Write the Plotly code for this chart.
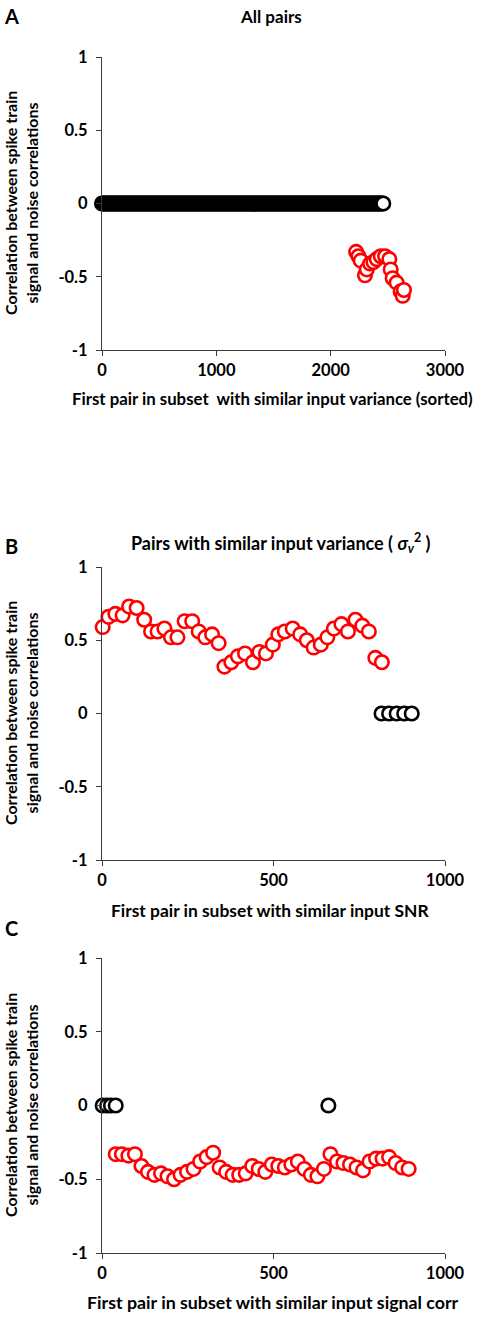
import plotly.graph_objects as go

# ---------------- data ----------------
# Panel A: all pairs
a_zero_x = list(range(0, 2461, 10))
a_zero_y = [0.0] * len(a_zero_x)
a_red_x = [2223, 2243, 2263, 2300, 2316, 2345, 2374, 2403, 2438, 2476, 2513, 2525, 2542, 2577, 2612, 2630, 2641]
a_red_y = [-0.33, -0.36, -0.39, -0.49, -0.45, -0.41, -0.40, -0.38, -0.36, -0.36, -0.38, -0.45, -0.51, -0.54, -0.60, -0.63, -0.59]

# Panel B: pairs with similar input variance
b_red_x = [2, 19, 39, 60, 79, 101, 123, 143, 162, 182, 201, 220, 241, 263, 282, 301, 321, 340,
           357, 377, 396, 417, 440, 459, 478, 498, 514, 533, 556, 578, 597, 617, 638, 657, 676,
           698, 717, 739, 759, 778, 797, 816]
b_red_y = [0.59, 0.66, 0.68, 0.67, 0.73, 0.72, 0.64, 0.56, 0.56, 0.58, 0.52, 0.52, 0.63, 0.63,
           0.56, 0.52, 0.54, 0.48, 0.32, 0.35, 0.39, 0.41, 0.35, 0.42, 0.41, 0.47, 0.54, 0.56,
           0.58, 0.54, 0.50, 0.45, 0.47, 0.52, 0.58, 0.61, 0.56, 0.64, 0.60, 0.56, 0.38, 0.35]
b_zero_x = [815, 837, 859, 881, 903]
b_zero_y = [0.0, 0.0, 0.0, 0.0, 0.0]

# Panel C: pairs with similar input signal correlation
c_red_x = [40, 58, 77, 96, 115, 134, 153, 172, 191, 210, 229, 248, 267, 286, 305, 324, 343, 362,
           381, 400, 419, 438, 457, 476, 495, 514, 533, 552, 571, 590, 609, 628, 647, 666, 685,
           704, 723, 742, 761, 780, 799, 818, 837, 856, 875, 894]
c_red_y = [-0.33, -0.33, -0.34, -0.33, -0.41, -0.45, -0.47, -0.46, -0.48, -0.50, -0.47, -0.45,
           -0.43, -0.38, -0.35, -0.32, -0.42, -0.45, -0.47, -0.47, -0.46, -0.41, -0.43, -0.45,
           -0.40, -0.41, -0.42, -0.40, -0.38, -0.43, -0.47, -0.48, -0.43, -0.33, -0.38, -0.39,
           -0.40, -0.42, -0.44, -0.38, -0.36, -0.36, -0.35, -0.39, -0.42, -0.43]
c_zero_x = [2, 15, 26, 40, 660]
c_zero_y = [0.0, 0.0, 0.0, 0.0, 0.0]

y_ticks = [-1, -0.5, 0, 0.5, 1]
y_ticktext = ["-1", "-0.5", "0", "0.5", "1"]
xa_ticks = [0, 1000, 2000, 3000]
xb_ticks = [0, 500, 1000]

# ---------------- figure ----------------
W, H = 491, 1317
FONT = "Lato"
RED = "#FF0000"
BLK = "#000000"


def py(px):
    return 1 - px / H


def px_x(px):
    return px / W


fig = go.Figure()

def add_pts(x, y, color, ax):
    fig.add_trace(go.Scatter(
        x=x, y=y, mode="markers", xaxis="x" + ax, yaxis="y" + ax,
        marker=dict(symbol="circle", size=13.5, color="white",
                    line=dict(color=color, width=2.6)),
        cliponaxis=False, showlegend=False, hoverinfo="x+y"))

add_pts(a_red_x, a_red_y, RED, "")
add_pts(a_zero_x, a_zero_y, BLK, "")
add_pts(b_red_x, b_red_y, RED, "2")
add_pts(b_zero_x, b_zero_y, BLK, "2")
add_pts(c_red_x, c_red_y, RED, "3")
add_pts(c_zero_x, c_zero_y, BLK, "3")

fig.data[0].xaxis = "x"; fig.data[0].yaxis = "y"
fig.data[1].xaxis = "x"; fig.data[1].yaxis = "y"

tickfont = dict(family=FONT, size=16.5, color="#000000", weight="bold")
axis_common = dict(showline=True, linecolor="#3a3a3a", linewidth=1.2, showgrid=False,
                   zeroline=False, ticks="outside", ticklen=5, tickcolor="#3a3a3a",
                   tickfont=tickfont, fixedrange=True, automargin=False)

panels = [
    ("", [57, 350], [0, 3000], xa_ticks),
    ("2", [567, 860], [0, 1000], xb_ticks),
    ("3", [958, 1253], [0, 1000], xb_ticks),
]
x_dom = [px_x(102), px_x(445)]
for ax, (top, bot), xr, xt in panels:
    fig.update_layout(**{
        "xaxis" + ax: dict(domain=x_dom, range=xr, tickvals=xt,
                           anchor="y" + ax, **axis_common),
        "yaxis" + ax: dict(domain=[py(bot), py(top)], range=[-1, 1], tickvals=y_ticks,
                           ticktext=y_ticktext, anchor="x" + ax, ticklabelstandoff=5,
                           **axis_common),
    })

ann = []
def text(x, y, s, size=14, angle=0):
    ann.append(dict(x=x / W, y=py(y), xref="paper", yref="paper", text=s, showarrow=False,
                    font=dict(family=FONT, size=size, color="#000000"), textangle=angle,
                    xanchor="center", yanchor="middle"))

ylab = "<b>Correlation between spike train<br>signal and noise correlations</b>"
for c in (203, 713, 1105):
    text(21, c, ylab, size=16, angle=-90)

text(11, 16, "<b>A</b>", size=20)
text(11, 546, "<b>B</b>", size=20)
text(11, 928, "<b>C</b>", size=20)
text(271, 17, "<b>All pairs</b>", size=17)
text(281, 543, "<b>Pairs with similar input variance ( <i>σ</i><sub><i>v</i></sub><sup>2</sup> )</b>", size=18)
text(272, 398, "<b>First pair in subset  with similar input variance (sorted)</b>", size=16.8)
text(270, 910, "<b>First pair in subset with similar input SNR</b>", size=17.4)
text(273, 1302, "<b>First pair in subset with similar input signal corr</b>", size=17.8)

fig.update_layout(width=W, height=H, margin=dict(l=0, r=0, t=0, b=0),
                  paper_bgcolor="white", plot_bgcolor="white", annotations=ann,
                  font=dict(family=FONT))

fig.write_html("out.html", config={"displayModeBar": False})
